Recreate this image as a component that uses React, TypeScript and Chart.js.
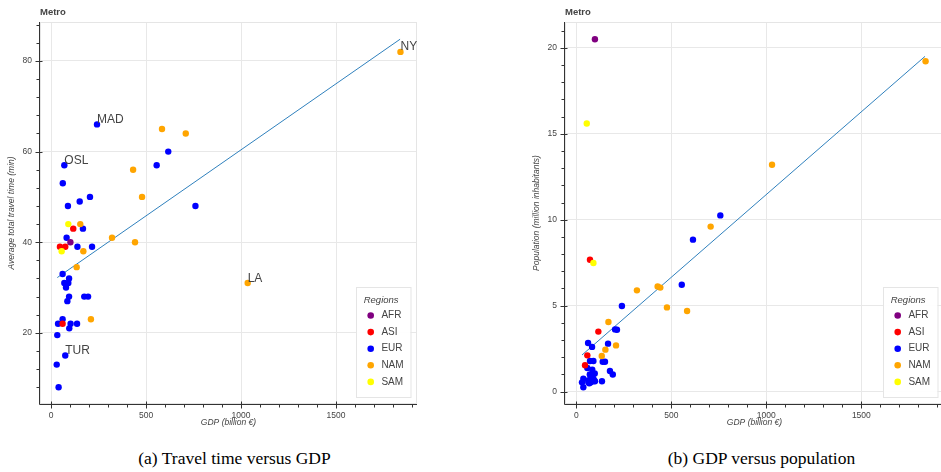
import React, { useEffect, useRef } from "react";
import { Chart, registerables } from "chart.js";

Chart.register(...registerables);

type Pt = { x: number; y: number };
type CityLabel = { name: string; x: number; y: number };

const FONT = '"Liberation Sans", Arial, Helvetica, sans-serif';
const TEXT = "#444444";

const regions = ["AFR", "ASI", "EUR", "NAM", "SAM"];
const regionColors = ["#800080", "#ff0000", "#0000ff", "#ffa500", "#ffff00"];

const gdpTicks = [0, 500, 1000, 1500];
const travelTicks = [20, 40, 60, 80];
const popTicks = [0, 5, 10, 15, 20];

// Panel (a): GDP (billion €) vs average total travel time (min)
const travelAFR: Pt[] = [{ x: 102, y: 40 }];
const travelASI: Pt[] = [
  { x: 117, y: 43 }, { x: 47, y: 39 }, { x: 75, y: 39 }, { x: 61, y: 22 },
];
const travelEUR: Pt[] = [
  { x: 242, y: 66 }, { x: 70, y: 57 }, { x: 62, y: 53 }, { x: 617, y: 60 },
  { x: 556, y: 57 }, { x: 760, y: 48 }, { x: 151, y: 49 }, { x: 205, y: 50 },
  { x: 89, y: 48 }, { x: 168, y: 43 }, { x: 82, y: 41 }, { x: 139, y: 39 },
  { x: 216, y: 39 }, { x: 61, y: 33 }, { x: 70, y: 31 }, { x: 95, y: 32 },
  { x: 91, y: 31 }, { x: 79, y: 30 }, { x: 95, y: 28 }, { x: 86, y: 27 },
  { x: 175, y: 28 }, { x: 195, y: 28 }, { x: 61, y: 23 }, { x: 37, y: 22 },
  { x: 103, y: 22 }, { x: 137, y: 22 }, { x: 96, y: 21 }, { x: 33, y: 19.5 },
  { x: 75, y: 15 }, { x: 30, y: 13 }, { x: 40, y: 8 },
];
const travelNAM: Pt[] = [
  { x: 584, y: 65 }, { x: 709, y: 64 }, { x: 432, y: 56 }, { x: 479, y: 50 },
  { x: 154, y: 44 }, { x: 170, y: 38 }, { x: 321, y: 41 }, { x: 442, y: 40 },
  { x: 135, y: 34.5 }, { x: 210, y: 23 }, { x: 1035, y: 31 }, { x: 1839, y: 82 },
];
const travelSAM: Pt[] = [{ x: 91, y: 44 }, { x: 56, y: 38 }];
const travelTrend: Pt[] = [{ x: 33, y: 32.2 }, { x: 1837, y: 84.8 }];
const travelCities: CityLabel[] = [
  { name: "MAD", x: 242, y: 66 },
  { name: "OSL", x: 70, y: 57 },
  { name: "TUR", x: 75, y: 15 },
  { name: "LA", x: 1035, y: 31 },
  { name: "NY", x: 1839, y: 82 },
];

// Panel (b): GDP (billion €) vs population (million inhabitants)
const popAFR: Pt[] = [{ x: 98, y: 20.5 }];
const popASI: Pt[] = [
  { x: 72, y: 7.67 }, { x: 116, y: 3.49 }, { x: 58, y: 2.11 }, { x: 46, y: 1.53 },
];
const popEUR: Pt[] = [
  { x: 758, y: 10.25 }, { x: 614, y: 8.84 }, { x: 555, y: 6.22 }, { x: 240, y: 4.98 },
  { x: 204, y: 3.62 }, { x: 214, y: 3.6 }, { x: 62, y: 2.83 }, { x: 83, y: 2.6 },
  { x: 167, y: 2.79 }, { x: 72, y: 1.78 }, { x: 90, y: 1.78 }, { x: 139, y: 1.74 },
  { x: 151, y: 1.74 }, { x: 58, y: 1.37 }, { x: 84, y: 1.28 }, { x: 97, y: 1.05 },
  { x: 177, y: 1.2 }, { x: 192, y: 1.0 }, { x: 71, y: 1.0 }, { x: 37, y: 0.75 },
  { x: 90, y: 0.75 }, { x: 135, y: 0.6 }, { x: 30, y: 0.54 }, { x: 63, y: 0.56 },
  { x: 77, y: 0.54 }, { x: 98, y: 0.6 }, { x: 37, y: 0.25 }, { x: 80, y: 0.9 },
  { x: 65, y: 0.66 }, { x: 95, y: 0.62 }, { x: 68, y: 0.48 },
];
const popNAM: Pt[] = [
  { x: 1838, y: 19.22 }, { x: 1030, y: 13.2 }, { x: 707, y: 9.6 }, { x: 428, y: 6.12 },
  { x: 442, y: 6.05 }, { x: 319, y: 5.89 }, { x: 477, y: 4.9 }, { x: 583, y: 4.69 },
  { x: 169, y: 4.05 }, { x: 209, y: 2.69 }, { x: 153, y: 2.44 }, { x: 134, y: 2.07 },
];
const popSAM: Pt[] = [{ x: 55, y: 15.6 }, { x: 90, y: 7.48 }];
const popTrend: Pt[] = [{ x: 30, y: 2.13 }, { x: 1835, y: 19.5 }];

type PanelSpec = {
  left: number;
  width: number;
  height: number;
  padding: { left: number; top: number; right: number; bottom: number };
  xRange: [number, number];
  yRange: [number, number];
  xTicks: number[];
  yTicks: number[];
  xMinorStep: number;
  yMinorStep: number;
  yTitle: string;
  series: Pt[][]; // in region order
  trend: Pt[];
  cities: CityLabel[];
};

function frameAndAxesPlugin(spec: PanelSpec) {
  return {
    id: "frameAndAxes",
    beforeDatasetsDraw(chart: any) {
      const { ctx, chartArea: a } = chart;
      ctx.save();
      ctx.strokeStyle = "#e5e5e5";
      ctx.lineWidth = 1;
      ctx.strokeRect(a.left + 0.5, a.top + 0.5, a.right - a.left - 1, a.bottom - a.top - 1);
      ctx.restore();
    },
    afterDraw(chart: any) {
      const { ctx, chartArea: a, scales } = chart;
      const xs = scales.x;
      const ys = scales.y;
      ctx.save();
      ctx.strokeStyle = "#333333";
      ctx.lineWidth = 1;
      ctx.beginPath();
      // axis lines
      const ax = Math.round(a.left) - 0.5;
      const ay = Math.round(a.bottom) + 0.5;
      ctx.moveTo(ax, a.top);
      ctx.lineTo(ax, ay);
      ctx.moveTo(ax, ay);
      ctx.lineTo(a.right, ay);
      // major ticks
      spec.yTicks.forEach((v) => {
        const p = Math.round(ys.getPixelForValue(v)) + 0.5;
        ctx.moveTo(ax - 4, p);
        ctx.lineTo(ax + 3, p);
      });
      spec.xTicks.forEach((v) => {
        const p = Math.round(xs.getPixelForValue(v)) + 0.5;
        ctx.moveTo(p, ay - 3);
        ctx.lineTo(p, ay + 4);
      });
      // minor ticks
      const [yMin, yMax] = spec.yRange;
      for (let v = Math.ceil(yMin / spec.yMinorStep) * spec.yMinorStep; v <= yMax; v += spec.yMinorStep) {
        const p = Math.round(ys.getPixelForValue(v)) + 0.5;
        ctx.moveTo(ax - 3, p);
        ctx.lineTo(ax, p);
      }
      const [xMin, xMax] = spec.xRange;
      for (let v = Math.ceil(xMin / spec.xMinorStep) * spec.xMinorStep; v <= xMax; v += spec.xMinorStep) {
        const p = Math.round(xs.getPixelForValue(v)) + 0.5;
        ctx.moveTo(p, ay);
        ctx.lineTo(p, ay + 3);
      }
      ctx.stroke();

      // panel title
      ctx.fillStyle = TEXT;
      ctx.font = `bold 9.5px ${FONT}`;
      ctx.textAlign = "left";
      ctx.textBaseline = "middle";
      ctx.fillText("Metro", a.left, 12.5);

      // city annotations
      ctx.font = `12px ${FONT}`;
      ctx.textBaseline = "alphabetic";
      spec.cities.forEach((c) => {
        ctx.fillText(c.name, xs.getPixelForValue(c.x), ys.getPixelForValue(c.y) - 1.5);
      });

      // region legend
      const w = 54.5;
      const h = 110;
      const lx = Math.round(a.right - 7 - w);
      const ly = Math.round(a.bottom - 7 - h);
      ctx.fillStyle = "rgba(255,255,255,0.95)";
      ctx.fillRect(lx, ly, w, h);
      ctx.strokeStyle = "#e5e5e5";
      ctx.strokeRect(lx + 0.5, ly + 0.5, w, h);
      ctx.fillStyle = TEXT;
      ctx.font = `italic 9.5px ${FONT}`;
      ctx.textBaseline = "middle";
      ctx.fillText("Regions", lx + 7.7, ly + 13.7);
      ctx.font = `10px ${FONT}`;
      regions.forEach((r, i) => {
        const cy = ly + 28.5 + i * 16.6;
        ctx.beginPath();
        ctx.arc(lx + 14.7, cy, 3.3, 0, Math.PI * 2);
        ctx.fillStyle = regionColors[i];
        ctx.fill();
        ctx.fillStyle = TEXT;
        ctx.fillText(r, lx + 25.4, cy);
      });
      ctx.restore();
    },
  };
}

function ScatterPanel({ spec }: { spec: PanelSpec }) {
  const ref = useRef<HTMLCanvasElement>(null);

  useEffect(() => {
    if (!ref.current) return;
    // datasets listed first are painted last (on top)
    const drawOrder = [4, 3, 1, 0, 2];
    const datasets: any[] = drawOrder.map((ri) => ({
      type: "scatter",
      label: regions[ri],
      data: spec.series[ri],
      backgroundColor: regionColors[ri],
      borderWidth: 0,
      pointRadius: 3.2,
      pointHoverRadius: 3.2,
    }));
    datasets.push({
      type: "line",
      label: "trend",
      data: spec.trend,
      borderColor: "#2f80bd",
      borderWidth: 1,
      pointRadius: 0,
      fill: false,
    });

    const plainNumber = (v: any) => String(v);

    const chart = new Chart(ref.current, {
      type: "scatter",
      data: { datasets },
      options: {
        animation: false,
        responsive: false,
        events: [],
        layout: { padding: spec.padding },
        plugins: {
          legend: { display: false },
          title: { display: false },
          tooltip: { enabled: false },
        },
        scales: {
          x: {
            type: "linear",
            min: spec.xRange[0],
            max: spec.xRange[1],
            afterBuildTicks: (s: any) => {
              s.ticks = spec.xTicks.map((v) => ({ value: v }));
            },
            afterFit: (s: any) => {
              s.height = 26;
            },
            border: { display: false },
            grid: { color: "#e8e8e8", lineWidth: 1, drawTicks: false },
            ticks: {
              color: TEXT,
              font: { family: FONT, size: 8.5 },
              padding: 6.5,
              maxRotation: 0,
              autoSkip: false,
              callback: plainNumber,
            },
            title: {
              display: true,
              text: "GDP (billion €)",
              color: TEXT,
              font: { family: FONT, size: 8.5, style: "italic" },
              padding: { top: 0, bottom: 2 },
            },
          },
          y: {
            type: "linear",
            min: spec.yRange[0],
            max: spec.yRange[1],
            afterBuildTicks: (s: any) => {
              s.ticks = spec.yTicks.map((v) => ({ value: v }));
            },
            afterFit: (s: any) => {
              s.width = 40;
            },
            border: { display: false },
            grid: { color: "#e8e8e8", lineWidth: 1, drawTicks: false },
            ticks: {
              color: TEXT,
              font: { family: FONT, size: 8.5 },
              padding: 8,
              autoSkip: false,
              callback: plainNumber,
            },
            title: {
              display: true,
              text: spec.yTitle,
              color: TEXT,
              font: { family: FONT, size: 8.5, style: "italic" },
              padding: { top: 7, bottom: 0 },
            },
          },
        },
      } as any,
      plugins: [frameAndAxesPlugin(spec)],
    });
    return () => chart.destroy();
  }, [spec]);

  return (
    <canvas
      ref={ref}
      width={spec.width}
      height={spec.height}
      style={{ position: "absolute", left: spec.left, top: 0, width: spec.width, height: spec.height }}
    />
  );
}

const travelPanel: PanelSpec = {
  left: 0,
  width: 470,
  height: 430,
  padding: { left: 0, top: 22, right: 53, bottom: 0 },
  xRange: [-58, 1926],
  yRange: [4.3, 88.6],
  xTicks: gdpTicks,
  yTicks: travelTicks,
  xMinorStep: 100,
  yMinorStep: 4,
  yTitle: "Average total travel time (min)",
  series: [travelAFR, travelASI, travelEUR, travelNAM, travelSAM],
  trend: travelTrend,
  cities: travelCities,
};

const popPanel: PanelSpec = {
  left: 470,
  width: 480,
  height: 430,
  padding: { left: 55, top: 22, right: 6, bottom: 0 },
  xRange: [-59.5, 1935],
  yRange: [-0.72, 21.5],
  xTicks: gdpTicks,
  yTicks: popTicks,
  xMinorStep: 100,
  yMinorStep: 1,
  yTitle: "Population (million inhabitants)",
  series: [popAFR, popASI, popEUR, popNAM, popSAM],
  trend: popTrend,
  cities: [],
};

const captionStyle: React.CSSProperties = {
  position: "absolute",
  top: 448,
  height: 20,
  lineHeight: "20px",
  fontFamily: '"Liberation Serif", "Times New Roman", serif',
  fontSize: 17.5,
  color: "#000",
  textAlign: "center",
  whiteSpace: "nowrap",
};

export default function App() {
  return (
    <div
      style={{
        position: "fixed",
        left: 0,
        top: 0,
        width: 941,
        height: 472,
        overflow: "hidden",
        background: "#ffffff",
      }}
    >
      <ScatterPanel spec={travelPanel} />
      <ScatterPanel spec={popPanel} />
      <div style={{ ...captionStyle, left: 134.5, width: 200 }}>(a) Travel time versus GDP</div>
      <div style={{ ...captionStyle, left: 661.5, width: 200 }}>(b) GDP versus population</div>
    </div>
  );
}
